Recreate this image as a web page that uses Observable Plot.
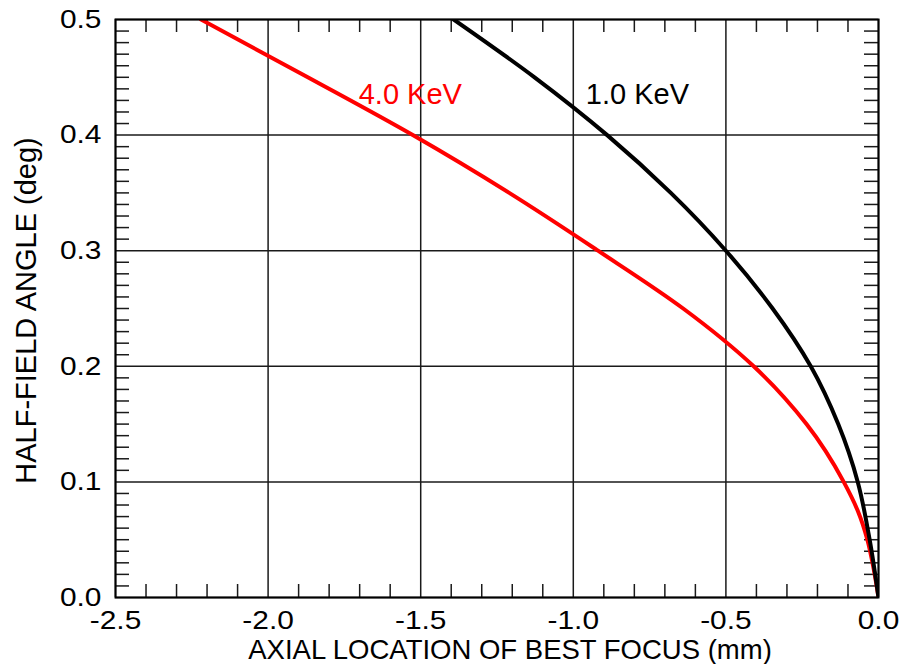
<!DOCTYPE html>
<html><head><meta charset="utf-8">
<script src="https://cdn.jsdelivr.net/npm/d3@7"></script>
<script src="https://cdn.jsdelivr.net/npm/@observablehq/plot@0.6"></script>
<style>
body{margin:0;background:#fff}
svg{display:block}
</style>
</head><body><div id="chart"></div>
<script>
// ---- data ----
const xMajor = [-2.5, -2.0, -1.5, -1.0, -0.5, 0.0];
const yMajor = [0.0, 0.1, 0.2, 0.3, 0.4, 0.5];
const xMinor = [-2.4,-2.3,-2.2,-2.1,-1.9,-1.8,-1.7,-1.6,-1.4,-1.3,-1.2,-1.1,-0.9,-0.8,-0.7,-0.6,-0.4,-0.3,-0.2,-0.1];
const yMinor = d3.range(1, 50).filter(i => i % 10 !== 0).map(i => i / 100);

// 4.0 KeV (red): half-field angle (deg) vs axial location (mm)
const red4Y = [0.0, 0.025, 0.05, 0.075, 0.1, 0.15, 0.2, 0.25, 0.3, 0.35, 0.4, 0.45, 0.5];
const red4X = [0.0, -0.016, -0.0365, -0.068, -0.114, -0.236, -0.409, -0.64, -0.919, -1.21, -1.526, -1.87, -2.22];
// 1.0 KeV (black)
const black1Y = [0.0, 0.05, 0.1, 0.15, 0.2, 0.25, 0.3, 0.35, 0.4, 0.45, 0.5];
const black1X = [0.0, -0.029, -0.068, -0.132, -0.222, -0.347, -0.5, -0.6805, -0.889, -1.127, -1.392];

const seriesLabels = [
  {name: "4.0 KeV", x: -1.703, y: 0.4265, color: "#ff0000"},
  {name: "1.0 KeV", x: -0.959, y: 0.4265, color: "#000000"}
];
const xTitle = "AXIAL LOCATION OF BEST FOCUS (mm)";
const yTitle = "HALF-FIELD ANGLE (deg)";

// ---- build ----
const red = red4X.map((x, i) => ({x, y: red4Y[i]}));
const black = black1X.map((x, i) => ({x, y: black1Y[i]}));

const W = 902, H = 664;
const mt = 19, mr = 24, mb = 67, ml = 115;
const ph = H - mt - mb, pw = W - ml - mr;
const font = "'Liberation Sans', Arial, Helvetica, sans-serif";
const gridColor = "#1a1a1a";

const chart = Plot.plot({
  width: W, height: H,
  marginTop: mt, marginRight: mr, marginBottom: mb, marginLeft: ml,
  style: {fontFamily: font, background: "#fff", color: "#000"},
  x: {domain: [-2.5, 0], axis: null},
  y: {domain: [0, 0.5], axis: null},
  marks: [
    Plot.gridX(xMajor, {stroke: gridColor, strokeOpacity: 1, strokeWidth: 1.5}),
    Plot.gridY(yMajor, {stroke: gridColor, strokeOpacity: 1, strokeWidth: 1.5}),
    // inward minor ticks on all four sides
    Plot.tickX(xMinor, {x: d => d, insetTop: ph - 13, stroke: gridColor, strokeWidth: 1.5}),
    Plot.tickX(xMinor, {x: d => d, insetBottom: ph - 13, stroke: gridColor, strokeWidth: 1.5}),
    Plot.tickY(yMinor, {y: d => d, insetRight: pw - 14, stroke: gridColor, strokeWidth: 1.5}),
    Plot.tickY(yMinor, {y: d => d, insetLeft: pw - 14, stroke: gridColor, strokeWidth: 1.5}),
    Plot.line(red, {x: "x", y: "y", stroke: "#ff0000", strokeWidth: 4, curve: "monotone-y", clip: true}),
    Plot.line(black, {x: "x", y: "y", stroke: "#000000", strokeWidth: 4, curve: "monotone-y", clip: true}),
    Plot.frame({stroke: "#000", strokeWidth: 2}),
    Plot.axisX(xMajor, {anchor: "bottom", tickSize: 0, tickPadding: 13, tickFormat: d => d.toFixed(1), fontSize: 26, label: null}),
    Plot.axisY(yMajor, {anchor: "left", tickSize: 0, tickPadding: 14, tickFormat: d => d.toFixed(1), fontSize: 26, label: null}),
    Plot.text(seriesLabels, {x: "x", y: "y", text: "name", fill: "color", fontSize: 29, textAnchor: "start", lineAnchor: "bottom"}),
    Plot.text([xTitle], {frameAnchor: "bottom", textAnchor: "middle", dx: 13, dy: 61, fontSize: 27.5, lineAnchor: "bottom", fill: "#000"}),
    Plot.text([yTitle], {frameAnchor: "left", textAnchor: "middle", rotate: -90, dx: -80, dy: 2, fontSize: 29, lineAnchor: "bottom", fill: "#000"})
  ]
});

// the reference's tick numerals are slightly wider than Helvetica: stretch them horizontally
chart.querySelectorAll('g[aria-label="x-axis tick label"] text, g[aria-label="y-axis tick label"] text').forEach(t => {
  const tr = t.getAttribute("transform");
  if (tr) {
    t.setAttribute("transform", tr + " scale(1.15,1)");
  } else {
    const x = +(t.getAttribute("x") || 0);
    t.setAttribute("transform", `translate(${x},0) scale(1.15,1) translate(${-x},0)`);
  }
});
document.getElementById("chart").appendChild(chart);
</script>
</body></html>
